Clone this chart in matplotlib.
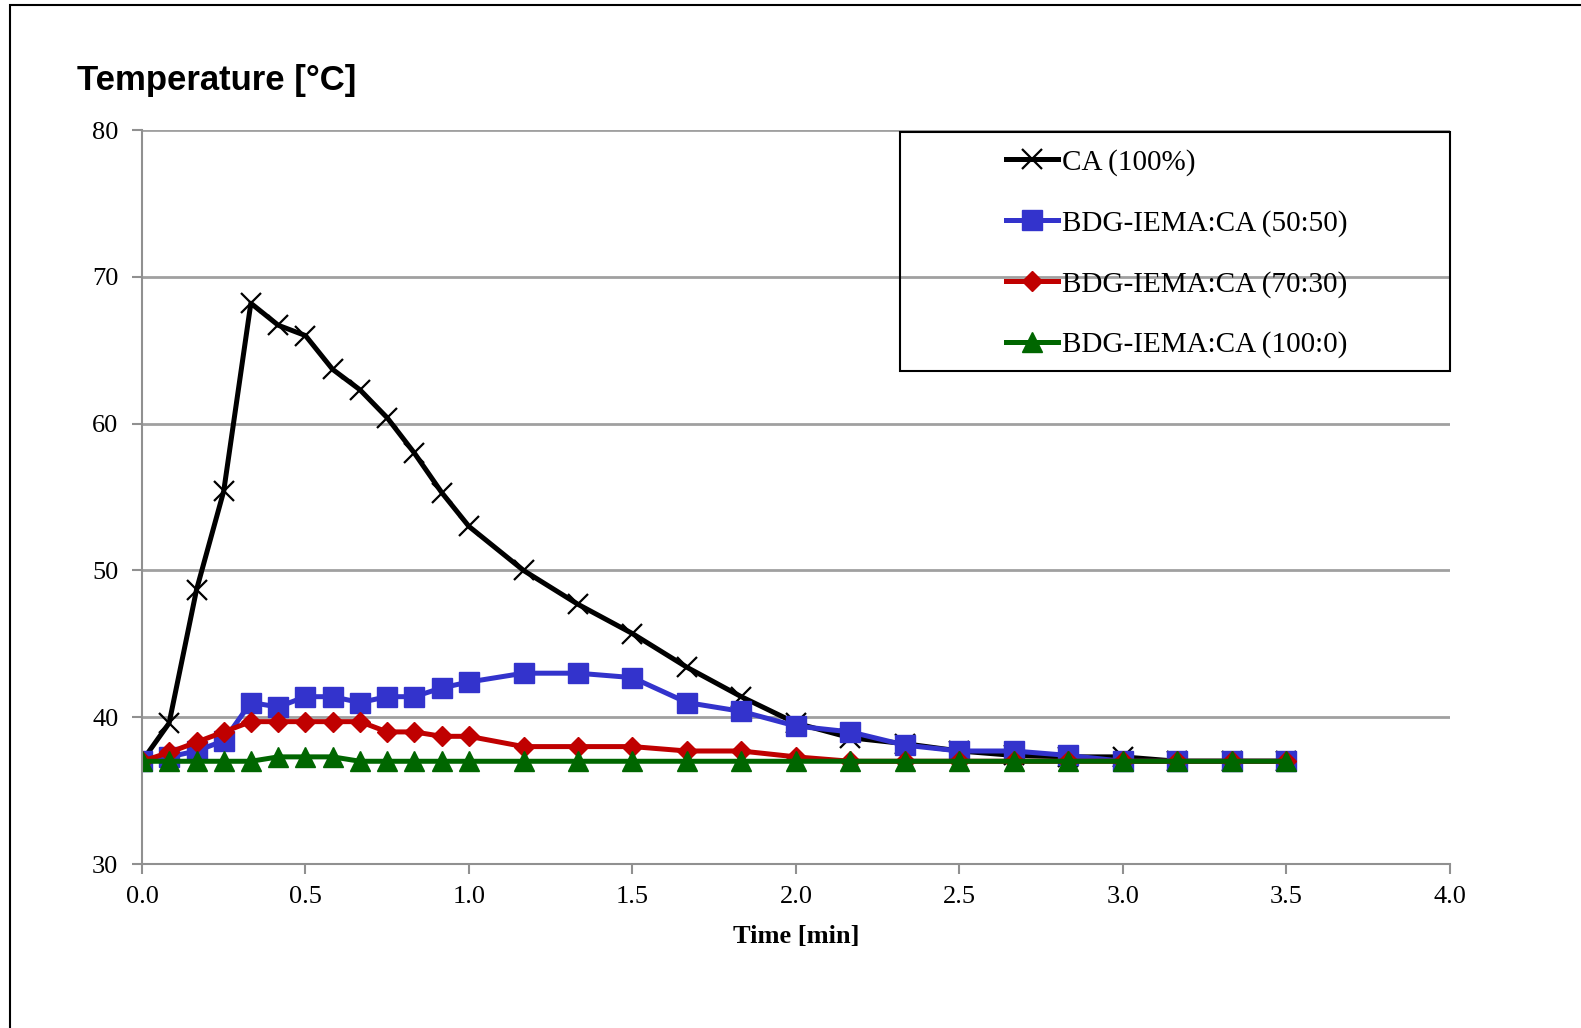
import matplotlib.pyplot as plt
from matplotlib.patches import Rectangle

# time points (min): every 5 s up to 1 min, then every 10 s
time_ca = [0.0, 0.083, 0.167, 0.25, 0.333, 0.417, 0.5, 0.583, 0.667, 0.75, 0.833, 0.917, 1.0,
           1.167, 1.333, 1.5, 1.667, 1.833, 2.0, 2.167, 2.333, 2.5, 2.667, 2.833, 3.0, 3.167, 3.333, 3.5]

ca_100 = [37.0, 39.6, 48.7, 55.4, 68.2, 66.7, 66.0, 63.7, 62.3, 60.4, 58.0, 55.3, 53.0,
          50.0, 47.7, 45.7, 43.4, 41.4, 39.6, 38.6, 38.2, 37.7, 37.4, 37.3, 37.3, 37.0, 37.0, 37.0]
bdg_50 = [37.0, 37.3, 37.7, 38.4, 41.0, 40.7, 41.4, 41.4, 41.0, 41.4, 41.4, 42.0, 42.4,
          43.0, 43.0, 42.7, 41.0, 40.4, 39.4, 39.0, 38.1, 37.7, 37.7, 37.4, 37.0, 37.0, 37.0, 37.0]
bdg_70 = [37.0, 37.6, 38.3, 39.0, 39.7, 39.7, 39.7, 39.7, 39.7, 39.0, 39.0, 38.7, 38.7,
          38.0, 38.0, 38.0, 37.7, 37.7, 37.3, 37.0, 37.0, 37.0, 37.0, 37.0, 37.0, 37.0, 37.0, 37.0]
bdg_100 = [37.0, 37.0, 37.0, 37.0, 37.0, 37.3, 37.3, 37.3, 37.0, 37.0, 37.0, 37.0, 37.0,
           37.0, 37.0, 37.0, 37.0, 37.0, 37.0, 37.0, 37.0, 37.0, 37.0, 37.0, 37.0, 37.0, 37.0, 37.0]

labels = ["CA (100%)", "BDG-IEMA:CA (50:50)", "BDG-IEMA:CA (70:30)", "BDG-IEMA:CA (100:0)"]
xticks = [0.0, 0.5, 1.0, 1.5, 2.0, 2.5, 3.0, 3.5, 4.0]
yticks = [30, 40, 50, 60, 70, 80]

serif = "Liberation Serif"

fig = plt.figure(figsize=(15.81, 10.28), dpi=100)
ax = fig.add_axes([0.0898, 0.1595, 0.8272, 0.714])

ax.plot(time_ca, ca_100, color="black", lw=3.6, marker="x", ms=14, mew=1.6,
        solid_joinstyle="round", label=labels[0])
ax.plot(time_ca, bdg_50, color="#3333CC", lw=3.6, marker="s", ms=14,
        solid_joinstyle="round", label=labels[1])
ax.plot(time_ca, bdg_70, color="#C00000", lw=3.6, marker="D", ms=10.5,
        solid_joinstyle="round", label=labels[2])
ax.plot(time_ca, bdg_100, color="#006600", lw=3.6, marker="^", ms=14,
        solid_joinstyle="round", label=labels[3])

ax.set_xlim(0, 4)
ax.set_ylim(30, 80)
ax.set_xticks(xticks)
ax.set_xticklabels([f"{t:.1f}" for t in xticks])
ax.set_yticks(yticks)
ax.tick_params(labelsize=19, color="#909090", length=7, width=1.5)
ax.tick_params(axis="y", pad=10)
ax.tick_params(axis="x", pad=9)
for lab in ax.get_xticklabels() + ax.get_yticklabels():
    lab.set_fontfamily(serif)
ax.grid(axis="y", color="#a0a0a0", lw=2)
ax.set_axisbelow(True)
for s in ["top", "right"]:
    ax.spines[s].set_visible(False)
for s in ["left", "bottom"]:
    ax.spines[s].set_color("#909090")
    ax.spines[s].set_linewidth(1.5)

ax.set_xlabel("Time [min]", fontsize=19, fontweight="bold", fontfamily=serif, labelpad=12)
fig.text(0.049, 0.922, "Temperature [°C]", fontsize=25, fontfamily="Liberation Sans",
         fontweight="bold", va="center", ha="left")

# legend frame
fig.patches.append(Rectangle((0.569, 0.639), 0.348, 0.2326, transform=fig.transFigure,
                             fill=False, edgecolor="black", lw=1.5))
ax.legend(loc="upper left", bbox_to_anchor=(0.636, 0.855), bbox_transform=fig.transFigure,
          frameon=False, prop={"family": serif, "size": 21}, handlelength=1.8,
          handletextpad=0.12, labelspacing=1.16, borderaxespad=0, borderpad=0)

# outer border
fig.patches.append(Rectangle((0.0065, -0.1), 1.2, 1.095, transform=fig.transFigure,
                             fill=False, edgecolor="black", lw=1.5))

fig.savefig("out.png", dpi=100)
